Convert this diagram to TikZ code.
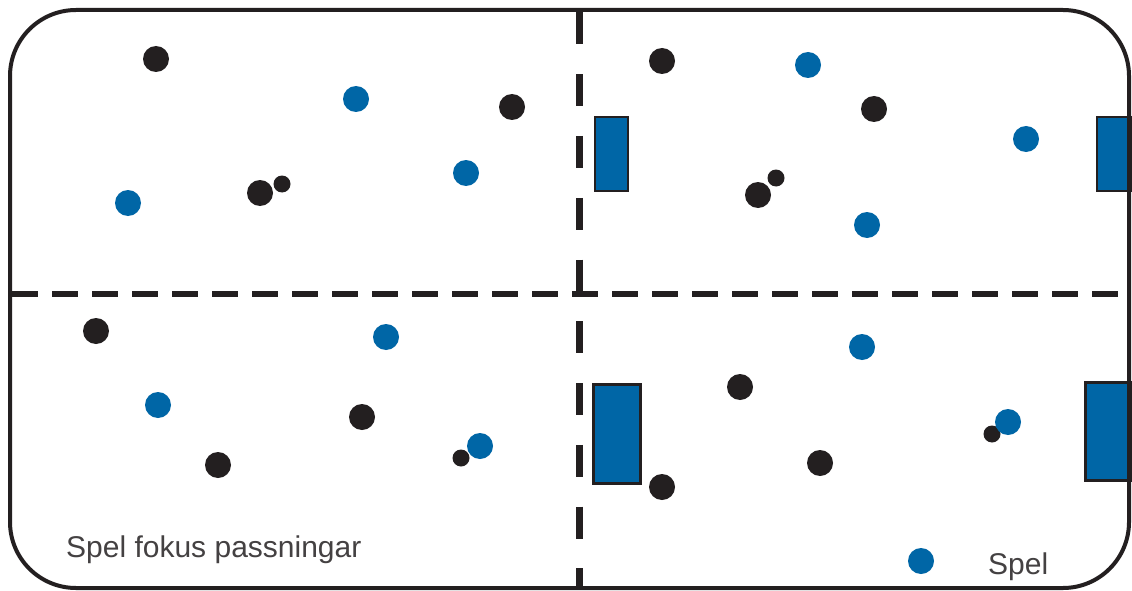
\documentclass[tikz,border=0pt]{standalone}
\usepackage{fontspec}
\setmainfont{Liberation Sans}
\definecolor{pblue}{RGB}{0,102,166}
\definecolor{pblack}{RGB}{35,31,32}
\begin{document}
\begin{tikzpicture}[x=1pt,y=-1pt,
  bdot/.style={circle,fill=pblack,inner sep=0,minimum size=26pt},
  sdot/.style={circle,fill=pblack,inner sep=0,minimum size=17pt},
  udot/.style={circle,fill=pblue,inner sep=0,minimum size=26pt},
  goalthin/.style={rectangle,fill=pblue,draw=pblack,line width=1.6pt,inner sep=0,anchor=north west},
  goalthick/.style={rectangle,fill=pblue,draw=pblack,line width=3pt,inner sep=0,anchor=north west},
  divv/.style={line width=7pt,pblack,dash pattern=on 32pt off 29.75pt},
  divh/.style={line width=6pt,pblack,dash pattern=on 26pt off 14pt},
  lbl/.style={inner sep=0,anchor=base west,text=pblack!85,font=\fontsize{30}{36}\selectfont}]
\useasboundingbox (0,0) rectangle (1132,591);
\fill[white] (0,0) rectangle (1132,591);
% goals
\node[goalthin,minimum width=33pt,minimum height=74pt] (g1) at (594,116) {};
\node[goalthin,minimum width=34pt,minimum height=74pt] (g2) at (1096,116) {};
\node[goalthick,minimum width=47pt,minimum height=99pt] (g3) at (592,383) {};
\node[goalthick,minimum width=46pt,minimum height=98pt] (g4) at (1084,381) {};
% dividers
\coordinate (vt) at (579.5,12.5);
\coordinate (vb) at (579.5,588);
\coordinate (hl) at (12,294);
\coordinate (hr) at (1128,294);
\draw[divv] (vt) -- (vb);
\draw[divh] (hl) -- (hr);
% frame
\draw[pblack,line width=4pt,rounded corners=66pt] (10,10) rectangle (1129,588);
% top-left
\node[bdot] (a1) at (156,59) {};
\node[udot] (a2) at (356,99) {};
\node[bdot] (a3) at (512,107) {};
\node[udot] (a4) at (128,203) {};
\node[bdot] (a5) at (260,193) {};
\node[sdot] (a6) at (282,184) {};
\node[udot] (a7) at (466,173) {};
% top-right
\node[bdot] (b1) at (662,61) {};
\node[udot] (b2) at (808,65) {};
\node[bdot] (b3) at (874,109) {};
\node[udot] (b4) at (1026,139) {};
\node[bdot] (b5) at (758,195) {};
\node[sdot] (b6) at (776,178) {};
\node[udot] (b7) at (867,225) {};
% bottom-left
\node[bdot] (c1) at (96,331) {};
\node[udot] (c2) at (386,337) {};
\node[udot] (c3) at (158,405) {};
\node[bdot] (c4) at (362,417) {};
\node[bdot] (c5) at (218,465) {};
\node[sdot] (c6) at (461,458) {};
\node[udot] (c7) at (480,446) {};
% bottom-right
\node[udot] (d1) at (862,347) {};
\node[bdot] (d2) at (740,387) {};
\node[bdot] (d3) at (820,463) {};
\node[bdot] (d4) at (662,487) {};
\node[sdot] (d5) at (992,434) {};
\node[udot] (d6) at (1008,422) {};
\node[udot] (d7) at (921,561) {};
% labels
\node[lbl] (t1) at (66,557) {Spel fokus passningar};
\node[lbl] (t2) at (988,574) {Spel};
\end{tikzpicture}
\end{document}
